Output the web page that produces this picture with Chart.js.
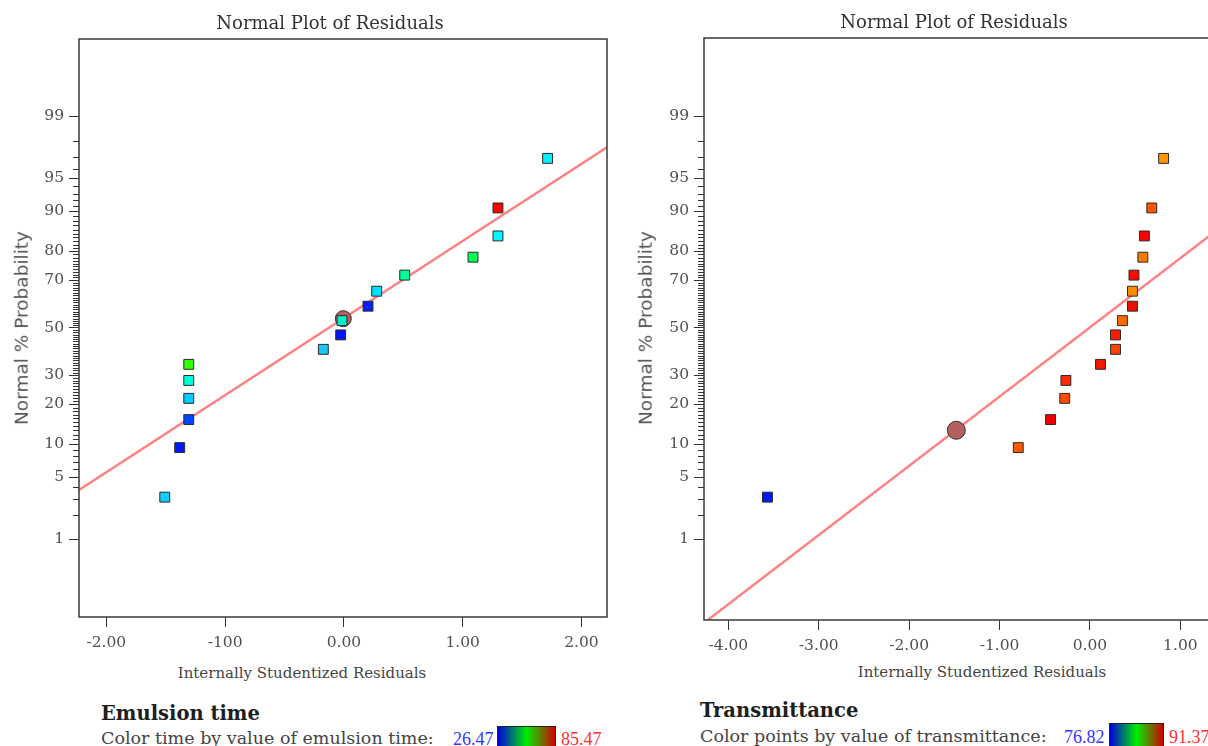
<!DOCTYPE html>
<html>
<head>
<meta charset="utf-8">
<script src="https://cdn.jsdelivr.net/npm/chart.js@4.4.1/dist/chart.umd.min.js"></script>
<style>
html, body { margin: 0; padding: 0; background: #fff; }
body { width: 1208px; height: 746px; overflow: hidden; position: relative; font-family: "DejaVu Serif", serif; }
.abs { position: absolute; white-space: nowrap; line-height: 1; }
.title { font-size: 18px; color: #333; transform: translateX(-50%); }
.xtitle { font-size: 15px; color: #444; transform: translateX(-50%); }
.ytitle { font-family: "DejaVu Sans", sans-serif; font-size: 18.5px; color: #555; transform: translate(-50%, -50%) rotate(-90deg); }
.head { font-size: 19.5px; font-weight: bold; color: #1e1e1e; }
.sub { font-size: 17.5px; color: #444; }
.num { font-family: "Liberation Serif", serif; font-size: 18px; }
.bar { border: 1px solid #222; background: linear-gradient(to right, #0000e0, #00ee00 50%, #d00000); }
</style>
</head>
<body>
<div class="abs" style="left:0;top:0"><canvas id="left" width="620" height="660"></canvas></div>
<div class="abs" style="left:620px;top:0"><canvas id="right" width="600" height="660"></canvas></div>

<div class="abs title" style="left:330px;top:14px">Normal Plot of Residuals</div>
<div class="abs title" style="left:954px;top:13px">Normal Plot of Residuals</div>
<div class="abs ytitle" style="left:22px;top:328px">Normal % Probability</div>
<div class="abs ytitle" style="left:646px;top:328px">Normal % Probability</div>
<div class="abs xtitle" style="left:302px;top:666px">Internally Studentized Residuals</div>
<div class="abs xtitle" style="left:982px;top:665px">Internally Studentized Residuals</div>

<div class="abs head" style="left:101px;top:704px">Emulsion time</div>
<div class="abs sub" style="left:101px;top:730px">Color time by value of emulsion time:</div>
<div class="abs num" style="left:453px;top:730px;color:#3434ff">26.47</div>
<div class="abs bar" style="left:497px;top:726px;width:57px;height:30px"></div>
<div class="abs num" style="left:561px;top:730px;color:#ff3030">85.47</div>

<div class="abs head" style="left:700px;top:701px">Transmittance</div>
<div class="abs sub" style="left:700px;top:728px">Color points by value of transmittance:</div>
<div class="abs num" style="left:1064px;top:728px;color:#3434ff">76.82</div>
<div class="abs bar" style="left:1109px;top:723px;width:53px;height:30px"></div>
<div class="abs num" style="left:1169px;top:728px;color:#ff3030">91.37</div>

<script>
// normal % probability of each run (same for both responses, 16 runs)
const probPct = [3.125, 9.375, 15.625, 21.875, 28.125, 34.375, 40.625, 46.875,
                 53.125, 59.375, 65.625, 71.875, 78.125, 84.375, 90.625, 96.875];

// emulsion time
const emulsionResid = [-1.508, -1.382, -1.306, -1.306, -1.306, -1.306, -0.173, -0.027,
                       -0.016, 0.203, 0.276, 0.512, 1.087, 1.297, 1.297, 1.715];
const emulsionColors = ['#10ccff', '#0018ff', '#0044ff', '#00ccff', '#00ffd5', '#33ff00', '#19c6f5', '#0014ff',
                        '#00f0c8', '#0022ff', '#00e0ff', '#00ff9a', '#00ff55', '#00f8ff', '#ff0000', '#00f0ff'];
const emulsionMark = [-0.005, 54.0];
const emulsionLineX = [-2.23, 2.215];
const emulsionLineP = [3.72, 97.64];
const emulsionXTicks = [-2, -1, 0, 1, 2];
const emulsionXLabels = ['-2.00', '-100', '0.00', '1.00', '2.00'];

// transmittance
const transResid = [-3.567, -0.793, -0.436, -0.279, -0.266, 0.117, 0.283, 0.283,
                    0.360, 0.470, 0.470, 0.487, 0.585, 0.602, 0.684, 0.815];
const transColors = ['#0018ff', '#ff5a00', '#f00000', '#ff4a00', '#ff2a00', '#f01800', '#ff4400', '#ff1a00',
                     '#ff6a00', '#f01000', '#ff8a00', '#ff0a00', '#ff7a00', '#ff0000', '#ff5500', '#ff9500'];
const transMark = [-1.478, 12.98];
const transLineX = [-4.227, 1.328];
const transLineP = [0.0655, 84.5];
const transXTicks = [-4, -3, -2, -1, 0, 1];
const transXLabels = ['-4.00', '-3.00', '-2.00', '-1.00', '0.00', '1.00'];

const yMajorTicks = [1, 5, 10, 20, 30, 50, 70, 80, 90, 95, 99];
const yMinorTicks = [];
for (let p = 2; p <= 98; p++) if (!yMajorTicks.includes(p)) yMinorTicks.push(p);

// inverse normal (Acklam), input in percent
function probit(pct) {
  const p = pct / 100;
  if (p <= 0) return -8;
  if (p >= 1) return 8;
  const a = [-39.6968302866538, 220.946098424521, -275.928510446969, 138.357751867269, -30.6647980661472, 2.50662827745924];
  const b = [-54.4760987982241, 161.585836858041, -155.698979859887, 66.8013118877197, -13.2806815528857];
  const c = [-0.00778489400243029, -0.322396458041136, -2.40075827716184, -2.54973253934373, 4.37466414146497, 2.93816398269878];
  const d = [0.00778469570904146, 0.32246712907004, 2.445134137143, 3.75440866190742];
  let q, r;
  if (p < 0.02425) {
    q = Math.sqrt(-2 * Math.log(p));
    return (((((c[0]*q+c[1])*q+c[2])*q+c[3])*q+c[4])*q+c[5]) / ((((d[0]*q+d[1])*q+d[2])*q+d[3])*q+1);
  }
  if (p > 1 - 0.02425) {
    q = Math.sqrt(-2 * Math.log(1 - p));
    return -(((((c[0]*q+c[1])*q+c[2])*q+c[3])*q+c[4])*q+c[5]) / ((((d[0]*q+d[1])*q+d[2])*q+d[3])*q+1);
  }
  q = p - 0.5; r = q * q;
  return (((((a[0]*r+a[1])*r+a[2])*r+a[3])*r+a[4])*r+a[5])*q / (((((b[0]*r+b[1])*r+b[2])*r+b[3])*r+b[4])*r+1);
}
function normCdf(z) {
  const t = 1 / (1 + 0.3275911 * Math.abs(z) / Math.SQRT2);
  const e = 1 - (((((1.061405429*t - 1.453152027)*t) + 1.421413741)*t - 0.284496736)*t + 0.254829592)*t * Math.exp(-z*z/2);
  return 50 * (1 + (z < 0 ? -e : e));
}

// normal probability axis
class ProbitScale extends Chart.LinearScale {
  static id = 'probit';
  static defaults = {};
  determineDataLimits() {
    this.min = this.options.zMin;
    this.max = this.options.zMax;
  }
  buildTicks() {
    return yMajorTicks.map(v => ({ value: v }));
  }
  getPixelForValue(value) {
    return value === null ? NaN : this.getPixelForDecimal((probit(value) - this._startValue) / this._valueRange);
  }
  getValueForPixel(pixel) {
    return normCdf(this._startValue + this.getDecimalForPixel(pixel) * this._valueRange);
  }
}
Chart.register(ProbitScale);

const frame = {
  id: 'frame',
  afterDraw(chart) {
    const { ctx, chartArea: a } = chart;
    ctx.save();
    ctx.strokeStyle = '#3a3a3a';
    ctx.lineWidth = 1.5;
    ctx.strokeRect(a.left, a.top, a.right - a.left, a.bottom - a.top);
    ctx.restore();
  }
};

const minorTicks = {
  id: 'minorTicks',
  afterDraw(chart) {
    const y = chart.scales.y, ctx = chart.ctx;
    ctx.save();
    ctx.strokeStyle = '#333';
    ctx.lineWidth = 1;
    ctx.beginPath();
    yMinorTicks.forEach(p => {
      const py = Math.round(y.getPixelForValue(p)) + 0.5;
      ctx.moveTo(y.right - 6, py);
      ctx.lineTo(y.right, py);
    });
    ctx.stroke();
    ctx.restore();
  }
};

const tickFont = { family: 'DejaVu Serif', size: 15.5 };

function residualPlot(id, cfg) {
  return new Chart(document.getElementById(id), {
    type: 'scatter',
    data: {
      datasets: [
        {
          data: cfg.resid.map((v, i) => ({ x: v, y: probPct[i] })),
          pointStyle: 'rect',
          pointRadius: 7,
          backgroundColor: cfg.colors,
          borderColor: '#2b2b2b',
          borderWidth: 1
        },
        {
          data: [{ x: cfg.mark[0], y: cfg.mark[1] }],
          pointStyle: 'circle',
          pointRadius: cfg.markR,
          backgroundColor: '#b55f5f',
          borderColor: '#333',
          borderWidth: 1
        },
        {
          data: cfg.lineX.map((v, i) => ({ x: v, y: cfg.lineP[i] })),
          showLine: true,
          borderColor: '#ff8282',
          borderWidth: 2.5,
          pointRadius: 0,
          clip: 0
        }
      ]
    },
    options: {
      responsive: false,
      animation: false,
      devicePixelRatio: 1,
      events: [],
      layout: { padding: cfg.padding },
      plugins: { legend: { display: false }, tooltip: { enabled: false }, title: { display: false } },
      scales: {
        x: {
          type: 'linear',
          bounds: 'data',
          min: cfg.xMin,
          max: cfg.xMax,
          afterBuildTicks: s => { s.ticks = cfg.xTicks.map(v => ({ value: v })); },
          afterFit: s => { s.height = cfg.xAxisH; },
          border: { display: false },
          grid: { drawOnChartArea: false, tickLength: 10, tickColor: '#333', tickWidth: 1 },
          ticks: { autoSkip: false, maxRotation: 0, padding: 7, font: tickFont, color: '#505050',
                   callback: (v, i) => cfg.xLabels[i] }
        },
        y: {
          type: 'probit',
          zMin: cfg.zMin,
          zMax: cfg.zMax,
          afterFit: s => { s.width = cfg.yAxisW; },
          border: { display: false },
          grid: { drawOnChartArea: false, tickLength: 10, tickColor: '#333', tickWidth: 1 },
          ticks: { autoSkip: false, padding: 5, font: tickFont, color: '#505050', callback: v => String(v) }
        }
      }
    },
    plugins: [frame, minorTicks]
  });
}

residualPlot('left', {
  resid: emulsionResid, colors: emulsionColors, mark: emulsionMark, markR: 8,
  lineX: emulsionLineX, lineP: emulsionLineP, xTicks: emulsionXTicks, xLabels: emulsionXLabels,
  xMin: -2.23, xMax: 2.215, zMin: -3.181, zMax: 3.176,
  padding: { top: 39, right: 13, left: 0, bottom: 0 }, yAxisW: 79, xAxisH: 43
});

residualPlot('right', {
  resid: transResid, colors: transColors, mark: transMark, markR: 9,
  lineX: transLineX, lineP: transLineP, xTicks: transXTicks, xLabels: transXLabels,
  xMin: -4.269, xMax: 1.328, zMin: -3.214, zMax: 3.187,
  padding: { top: 38, right: 6, left: 0, bottom: 0 }, yAxisW: 84, xAxisH: 40
});
</script>
</body>
</html>
